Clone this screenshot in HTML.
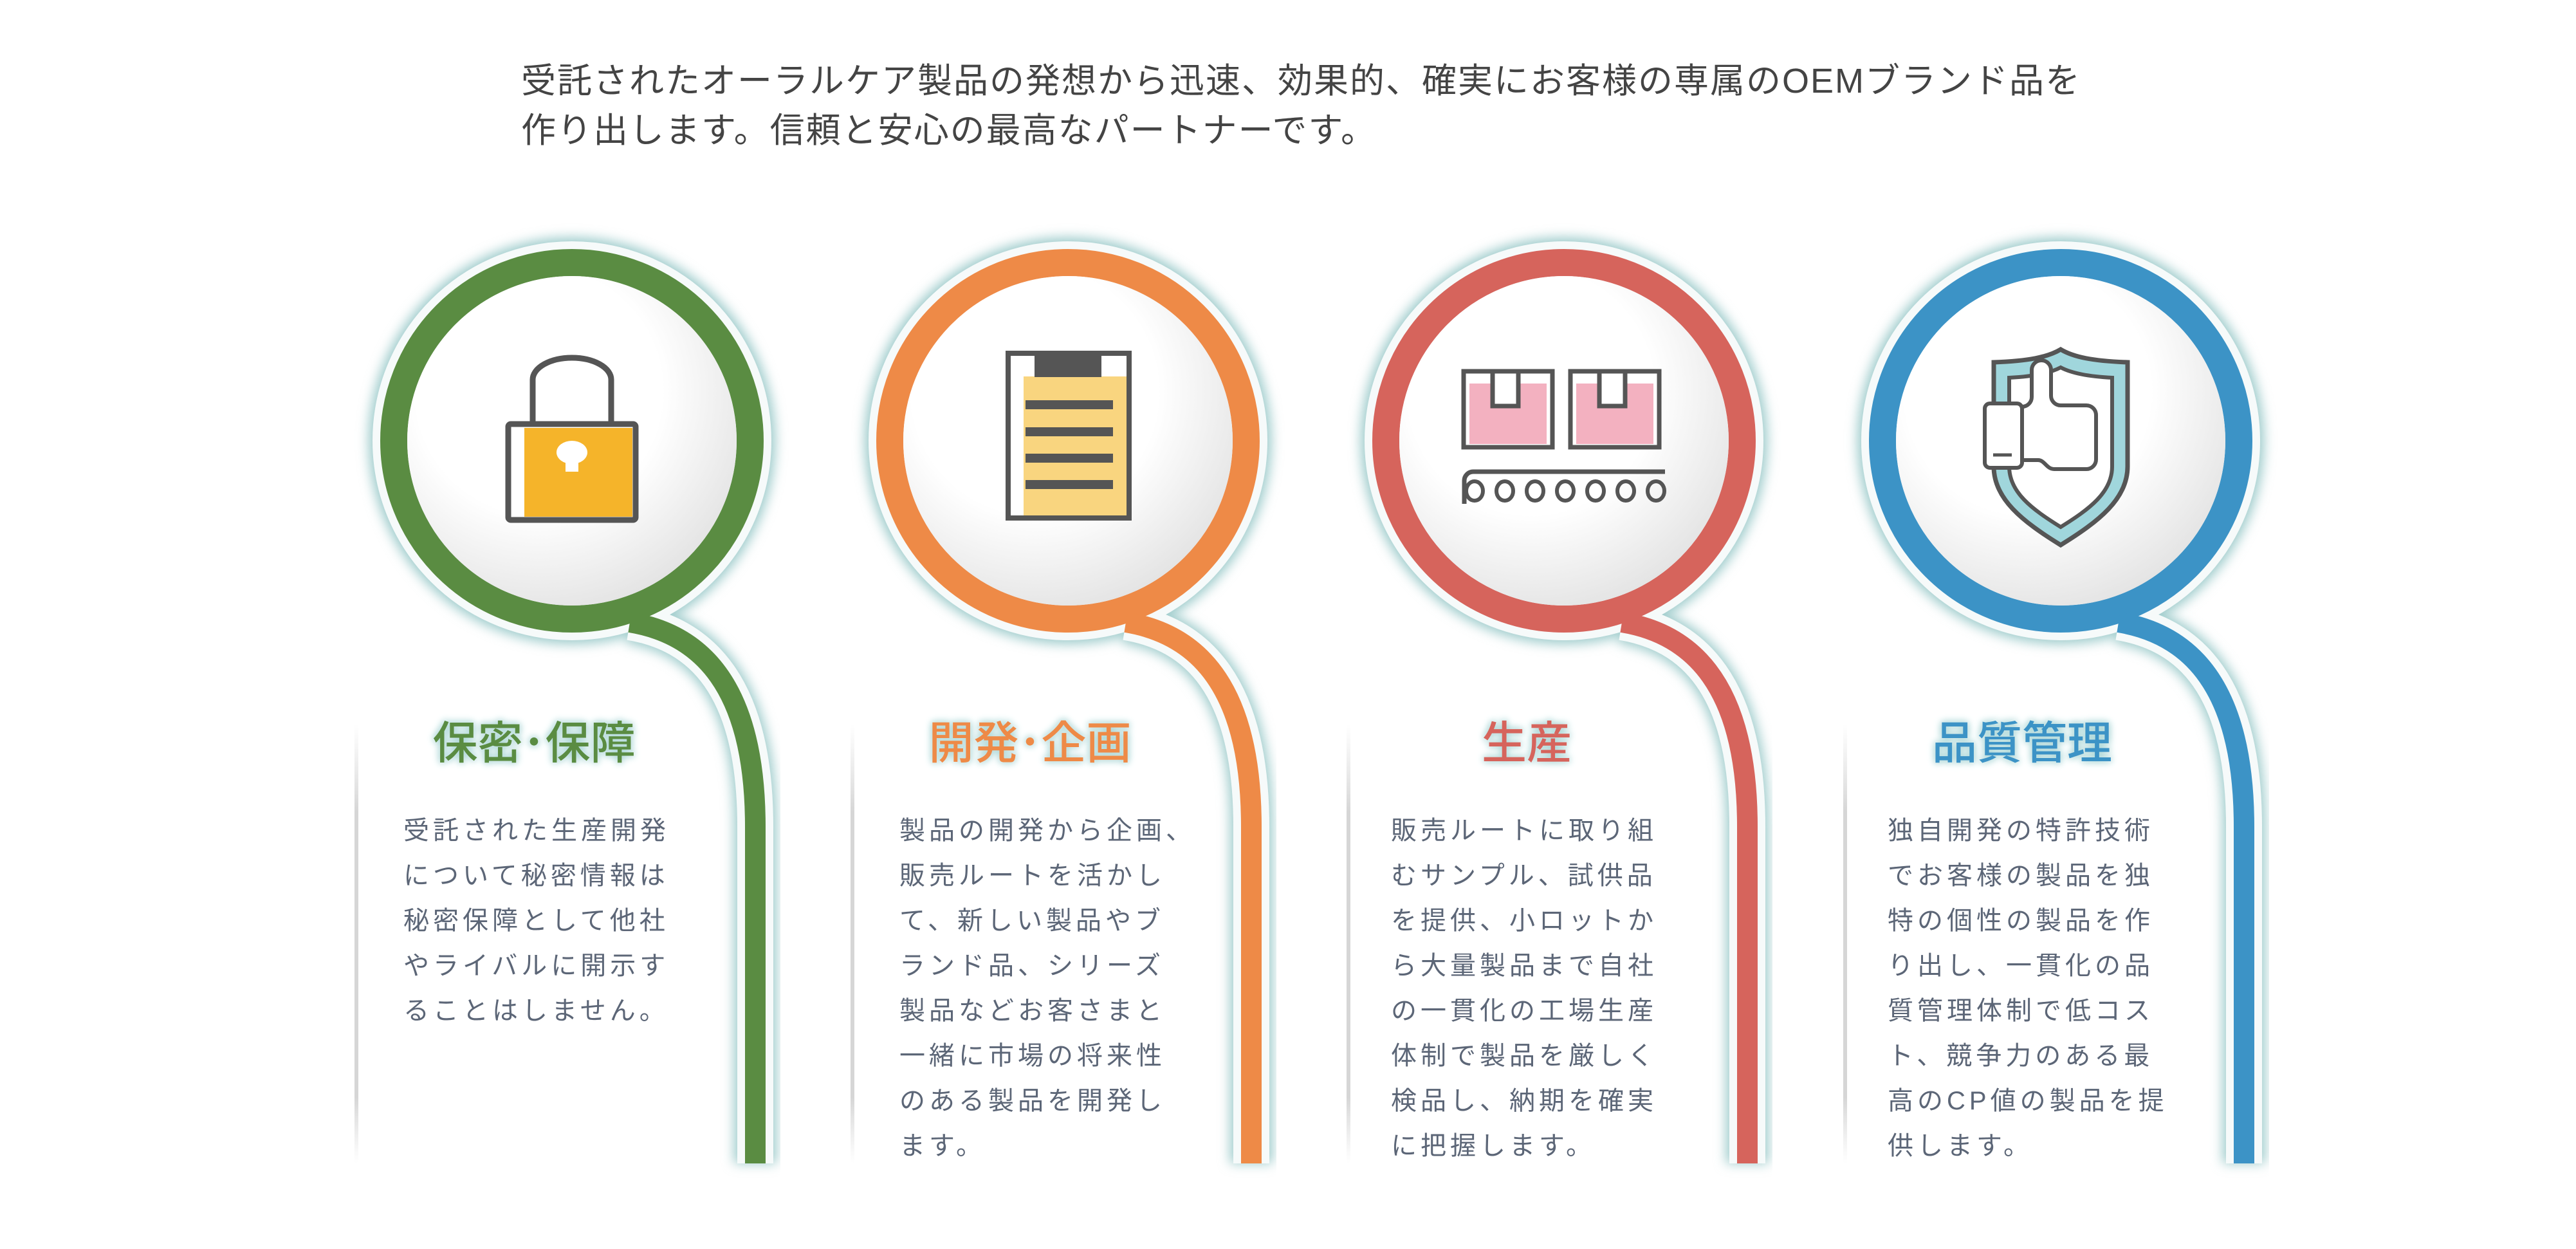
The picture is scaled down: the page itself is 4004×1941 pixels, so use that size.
<!DOCTYPE html>
<html><head><meta charset="utf-8"><style>
body{margin:0;width:4004px;height:1941px;background:#fff;overflow:hidden;position:relative;font-family:"Liberation Sans","Noto Sans CJK JP",sans-serif}
.top{position:absolute;left:810px;top:88px;font-size:54px;line-height:77px;color:#444;letter-spacing:2px;white-space:nowrap}
.t{position:absolute;width:400px;text-align:center;font-size:70px;line-height:80px;font-weight:500;text-shadow:0 0 10px #9fd0d0,0 0 4px #fff,0 0 14px #b5dcdc}
.b{position:absolute;font-size:40px;line-height:70px;letter-spacing:6px;color:#5c6677;white-space:nowrap}
svg{position:absolute;left:0;top:0}
</style></head><body>
<svg width="4004" height="1941" viewBox="0 0 4004 1941">
<defs>
<filter id="bl" x="-20%" y="-20%" width="140%" height="140%"><feGaussianBlur stdDeviation="9"/></filter>
<radialGradient id="dg" cx="0.4" cy="0.35" r="0.75"><stop offset="0.5" stop-color="#ffffff"/><stop offset="1" stop-color="#dedede"/></radialGradient>
<linearGradient id="lg" x1="0" y1="0" x2="0" y2="1"><stop offset="0" stop-color="#ddd" stop-opacity="0"/><stop offset="0.2" stop-color="#d6d6d6"/><stop offset="0.85" stop-color="#d6d6d6"/><stop offset="1" stop-color="#ddd" stop-opacity="0"/></linearGradient>
<path id="tp" d="M90,282 C200,300 285,380 285,600 L285,1123"/>
<g id="shape-glow"><circle r="277" fill="none" stroke="#9ccaca" stroke-width="78" filter="url(#bl)"/><use href="#tp" fill="none" stroke="#9ccaca" stroke-width="66" filter="url(#bl)"/></g>
<g id="shape-white"><circle r="277" fill="none" stroke="#f6fafa" stroke-width="66"/><use href="#tp" fill="none" stroke="#f6fafa" stroke-width="56"/></g>
<rect id="pl" x="-338" y="440" width="6" height="683" fill="url(#lg)"/>
</defs>
<g id="c1" transform="translate(889,685)">
<use href="#pl"/><use href="#shape-glow"/><use href="#shape-white"/>
<circle r="277" fill="none" stroke="#5a8c42" stroke-width="42"/>
<use href="#tp" fill="none" stroke="#5a8c42" stroke-width="32"/>
<circle r="256" fill="url(#dg)"/>
<path d="M-61,-20 V-95 A61,34 0 0 1 61,-95 V-20" fill="none" stroke="#555" stroke-width="9"/>
<rect x="-99" y="-26" width="198" height="149" rx="4" fill="#fff" stroke="#555" stroke-width="9"/>
<rect x="-74" y="-20" width="168" height="138" fill="#f5b42a"/>
<ellipse cx="0" cy="18" rx="24" ry="18" fill="#fff"/><rect x="-10" y="22" width="20" height="26" fill="#fff"/>
</g>
<g id="c2" transform="translate(1660,685)">
<use href="#pl"/><use href="#shape-glow"/><use href="#shape-white"/>
<circle r="277" fill="none" stroke="#ee8a47" stroke-width="42"/>
<use href="#tp" fill="none" stroke="#ee8a47" stroke-width="32"/>
<circle r="256" fill="url(#dg)"/>
<rect x="-93" y="-136" width="188" height="256" fill="#fff" stroke="#555" stroke-width="8"/>
<rect x="-69" y="-100" width="160" height="216" fill="#f9d57f"/>
<rect x="-52" y="-139" width="104" height="40" fill="#555"/>
<rect x="-66" y="-63" width="136" height="14" fill="#555"/><rect x="-66" y="-21" width="136" height="14" fill="#555"/>
<rect x="-66" y="20" width="136" height="14" fill="#555"/><rect x="-66" y="61" width="136" height="14" fill="#555"/>
</g>
<g id="c3" transform="translate(2431,685)">
<use href="#pl"/><use href="#shape-glow"/><use href="#shape-white"/>
<circle r="277" fill="none" stroke="#d6645c" stroke-width="42"/>
<use href="#tp" fill="none" stroke="#d6645c" stroke-width="32"/>
<circle r="256" fill="url(#dg)"/>
<rect x="-156" y="-108" width="138" height="118" fill="#fff" stroke="#555" stroke-width="7"/>
<rect x="-147" y="-89" width="120" height="94" fill="#f3b1c0"/>
<rect x="-111" y="-108" width="40" height="54" fill="#fff" stroke="#555" stroke-width="7"/>
<rect x="10" y="-108" width="138" height="118" fill="#fff" stroke="#555" stroke-width="7"/>
<rect x="19" y="-89" width="120" height="94" fill="#f3b1c0"/>
<rect x="55" y="-108" width="40" height="54" fill="#fff" stroke="#555" stroke-width="7"/>
<path d="M-155,98 V62 A14,14 0 0 1 -141,48 H157" fill="none" stroke="#555" stroke-width="7"/>
<g fill="none" stroke="#555" stroke-width="6">
<ellipse cx="-139" cy="78" rx="13" ry="15"/><ellipse cx="-92" cy="78" rx="13" ry="15"/><ellipse cx="-45" cy="78" rx="13" ry="15"/>
<ellipse cx="2" cy="78" rx="13" ry="15"/><ellipse cx="49" cy="78" rx="13" ry="15"/><ellipse cx="96" cy="78" rx="13" ry="15"/><ellipse cx="143" cy="78" rx="13" ry="15"/></g>
</g>
<g id="c4" transform="translate(3203,685)">
<use href="#pl"/><use href="#shape-glow"/><use href="#shape-white"/>
<circle r="277" fill="none" stroke="#3c93c6" stroke-width="42"/>
<use href="#tp" fill="none" stroke="#3c93c6" stroke-width="32"/>
<circle r="256" fill="url(#dg)"/>
<path d="M-104,-122 C-50,-124 -20,-130 0,-142 C20,-130 50,-124 104,-122 V40 C104,90 60,125 0,162 C-60,125 -104,90 -104,40 Z" fill="#a0d6dc" stroke="#555" stroke-width="7"/>
<path d="M-80,-98 C-40,-100 -15,-106 0,-114 C15,-106 40,-100 80,-98 V40 C80,80 45,106 0,134 C-45,106 -80,80 -80,40 Z" fill="#fff" stroke="#555" stroke-width="6"/>
<path d="M-61,30 H-35 C-25,30 -22,44 -10,44 H40 A15,15 0 0 0 55,29 V-40 A15,15 0 0 0 40,-55 H0 A15,15 0 0 1 -15,-70 V-110 A15,15 0 0 0 -45,-110 V-68 A15,15 0 0 1 -60,-53 H-61" fill="#fff" stroke="#555" stroke-width="6"/>
<rect x="-118" y="-58" width="58" height="100" rx="8" fill="#fff" stroke="#555" stroke-width="6"/>
<line x1="-105" y1="22" x2="-76" y2="22" stroke="#555" stroke-width="5"/>
</g>
</svg>
<div class="top">受託されたオーラルケア製品の発想から迅速、効果的、確実にお客様の専属のOEMブランド品を<br>作り出します。信頼と安心の最高なパートナーです。</div>

<div class="t" style="left:630px;top:1115px;color:#5a8c42">保密･保障</div>
<div class="b" style="left:627px;top:1256px">受託された生産開発<br>について秘密情報は<br>秘密保障として他社<br>やライバルに開示す<br>ることはしません。</div>

<div class="t" style="left:1401px;top:1115px;color:#ee8a47">開発･企画</div>
<div class="b" style="left:1398px;top:1256px">製品の開発から企画、<br>販売ルートを活かし<br>て、新しい製品やブ<br>ランド品、シリーズ<br>製品などお客さまと<br>一緒に市場の将来性<br>のある製品を開発し<br>ます。</div>

<div class="t" style="left:2173px;top:1115px;color:#d6645c">生産</div>
<div class="b" style="left:2162px;top:1256px">販売ルートに取り組<br>むサンプル、試供品<br>を提供、小ロットか<br>ら大量製品まで自社<br>の一貫化の工場生産<br>体制で製品を厳しく<br>検品し、納期を確実<br>に把握します。</div>

<div class="t" style="left:2943px;top:1115px;color:#3c93c6">品質管理</div>
<div class="b" style="left:2934px;top:1256px">独自開発の特許技術<br>でお客様の製品を独<br>特の個性の製品を作<br>り出し、一貫化の品<br>質管理体制で低コス<br>ト、競争力のある最<br>高のCP値の製品を提<br>供します。</div>
</body></html>
